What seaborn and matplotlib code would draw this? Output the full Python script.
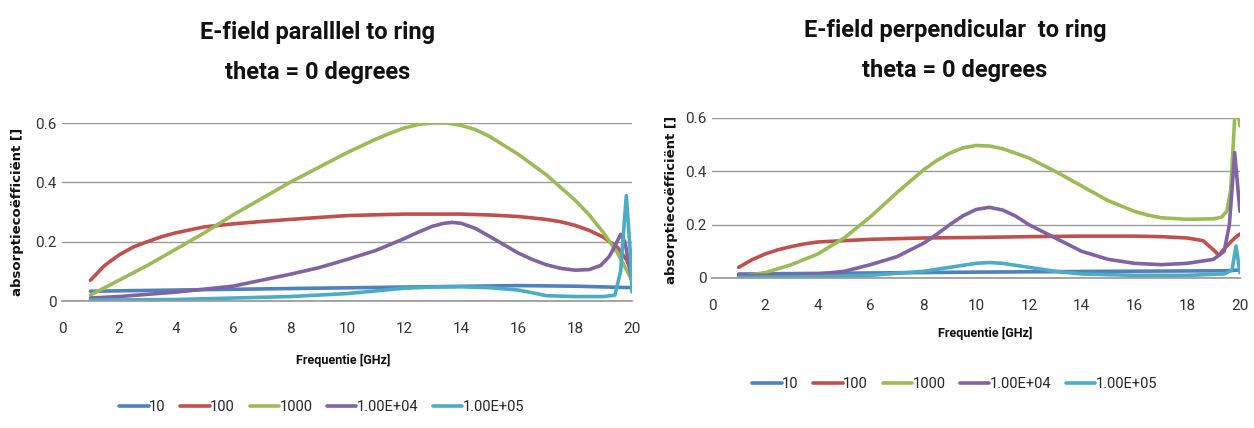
import matplotlib
matplotlib.use("Agg")
import matplotlib.pyplot as plt
import seaborn as sns

sns.set_theme(style="white")
plt.rcParams["font.family"] = ["Roboto", "DejaVu Sans"]

series_names = ["10", "100", "1000", "1.00E+04", "1.00E+05"]
colors = ["#4F81BD", "#C0504D", "#9BBB59", "#8064A2", "#4BACC6"]

# --- E-field parallel to ring ---
par_x_10 = [1, 4, 8, 12, 16, 18, 20]
par_y_10 = [0.033, 0.037, 0.042, 0.047, 0.052, 0.05, 0.045]

par_x_100 = [1, 1.5, 2, 2.5, 3, 3.5, 4, 5, 6, 7, 8, 10, 12, 14, 15, 16, 17, 17.5,
             18, 18.5, 19, 19.5, 19.8, 20]
par_y_100 = [0.07, 0.12, 0.155, 0.182, 0.2, 0.217, 0.23, 0.25, 0.26, 0.268, 0.275,
             0.288, 0.293, 0.293, 0.29, 0.285, 0.275, 0.267, 0.255, 0.238, 0.215,
             0.18, 0.14, 0.095]

par_x_1000 = [1, 2, 3, 4, 5, 6, 7, 8, 9, 10, 11, 11.5, 12, 12.5, 13, 13.5, 14,
              14.5, 15, 16, 17, 18, 18.5, 19, 19.5, 20]
par_y_1000 = [0.02, 0.07, 0.12, 0.175, 0.23, 0.29, 0.345, 0.4, 0.45, 0.5, 0.545,
              0.565, 0.583, 0.595, 0.6, 0.6, 0.592, 0.578, 0.555, 0.495, 0.425,
              0.34, 0.29, 0.23, 0.16, 0.07]

par_x_1e4 = [1, 2, 4, 6, 8, 9, 10, 11, 12, 12.5, 13, 13.4, 13.7, 14, 14.5, 15,
             15.5, 16, 16.5, 17, 17.5, 18, 18.5, 18.9, 19.2, 19.4, 19.6, 19.75,
             19.9, 20]
par_y_1e4 = [0.01, 0.015, 0.03, 0.05, 0.09, 0.112, 0.14, 0.17, 0.21, 0.232, 0.252,
             0.262, 0.265, 0.262, 0.245, 0.218, 0.19, 0.162, 0.14, 0.122, 0.11,
             0.104, 0.106, 0.12, 0.15, 0.185, 0.225, 0.2, 0.12, 0.06]

par_x_1e5 = [1, 4, 8, 10, 11, 12, 13, 14, 15, 16, 16.5, 17, 18, 19, 19.4, 19.6,
             19.8, 19.95, 20]
par_y_1e5 = [0.003, 0.005, 0.015, 0.025, 0.034, 0.043, 0.047, 0.048, 0.045, 0.037,
             0.028, 0.018, 0.015, 0.015, 0.02, 0.1, 0.355, 0.15, 0.03]

# --- E-field perpendicular to ring ---
per_x_10 = [1, 5, 10, 15, 19.5, 20]
per_y_10 = [0.015, 0.018, 0.022, 0.025, 0.027, 0.03]

per_x_100 = [1, 1.5, 2, 2.5, 3, 3.5, 4, 5, 6, 8, 10, 12, 14, 16, 17, 18, 18.6, 19,
             19.2, 19.5, 19.8, 20]
per_y_100 = [0.04, 0.068, 0.09, 0.106, 0.118, 0.128, 0.135, 0.14, 0.145, 0.15,
             0.152, 0.155, 0.157, 0.157, 0.155, 0.15, 0.14, 0.105, 0.085, 0.12,
             0.15, 0.165]

per_x_1000 = [1, 2, 3, 4, 5, 6, 7, 8, 8.5, 9, 9.5, 10, 10.5, 11, 11.5, 12, 13, 14,
              15, 16, 16.5, 17, 18, 19, 19.3, 19.5, 19.65, 19.8, 19.9, 20]
per_y_1000 = [0.005, 0.02, 0.05, 0.09, 0.15, 0.23, 0.32, 0.405, 0.44, 0.468, 0.488,
              0.497, 0.495, 0.485, 0.468, 0.45, 0.4, 0.345, 0.29, 0.25, 0.236, 0.226,
              0.22, 0.222, 0.228, 0.25, 0.33, 0.6, 0.64, 0.57]

per_x_1e4 = [1, 3, 4, 5, 6, 7, 8, 8.5, 9, 9.5, 10, 10.5, 11, 11.5, 12, 13, 14, 15,
             16, 17, 18, 19, 19.4, 19.6, 19.8, 20]
per_y_1e4 = [0.01, 0.01, 0.015, 0.025, 0.05, 0.08, 0.13, 0.163, 0.2, 0.233, 0.257,
             0.265, 0.255, 0.232, 0.2, 0.15, 0.1, 0.07, 0.055, 0.05, 0.055, 0.07,
             0.1, 0.2, 0.47, 0.25]

per_x_1e5 = [1, 4, 6, 8, 9, 10, 10.5, 11, 12, 13, 14, 16, 18, 19.4, 19.7, 19.85, 20]
per_y_1e5 = [0.002, 0.005, 0.01, 0.025, 0.04, 0.055, 0.058, 0.055, 0.04, 0.025,
             0.015, 0.01, 0.01, 0.015, 0.03, 0.12, 0.02]

parallel = [(par_x_10, par_y_10), (par_x_100, par_y_100), (par_x_1000, par_y_1000),
            (par_x_1e4, par_y_1e4), (par_x_1e5, par_y_1e5)]
perpendicular = [(per_x_10, per_y_10), (per_x_100, per_y_100),
                 (per_x_1000, per_y_1000), (per_x_1e4, per_y_1e4),
                 (per_x_1e5, per_y_1e5)]

fig = plt.figure(figsize=(12.54, 4.28), dpi=100)
ax1 = fig.add_axes([0.0494, 0.2967, 0.4546, 0.4159])
ax2 = fig.add_axes([0.568, 0.3505, 0.4208, 0.3738])


def draw_panel(ax, data):
    for (xs, ys), name, col in zip(data, series_names, colors):
        sns.lineplot(x=xs, y=ys, ax=ax, color=col, linewidth=2.6,
                     label=name, legend=False, solid_joinstyle="round")
    ax.set_xlim(0, 20)
    ax.set_ylim(0, 0.6)
    ax.set_xticks(range(0, 21, 2))
    ax.set_yticks([0, 0.2, 0.4, 0.6])
    ax.set_yticklabels(["0", "0.2", "0.4", "0.6"])
    ax.grid(axis="y", color="#9a9a9a", linewidth=1)
    ax.set_axisbelow(True)
    for s in ["top", "right", "left"]:
        ax.spines[s].set_visible(False)
    ax.spines["bottom"].set_color("#9a9a9a")
    ax.tick_params(axis="x", labelsize=11, pad=15, length=0, colors="#333333")
    ax.tick_params(axis="y", labelsize=11, pad=4, length=0, colors="#333333")
    ax.set_xlabel("")
    ax.set_ylabel("")


draw_panel(ax1, parallel)
draw_panel(ax2, perpendicular)

title_kw = dict(ha="center", va="center", fontsize=17, fontweight="bold",
                color="#111111")
fig.text(318 / 1254, 1 - 32 / 428, "E-field paralllel to ring", **title_kw)
fig.text(318 / 1254, 1 - 72 / 428, "theta = 0 degrees", **title_kw)
fig.text(955 / 1254, 1 - 30 / 428, "E-field perpendicular  to ring", **title_kw)
fig.text(955 / 1254, 1 - 70 / 428, "theta = 0 degrees", **title_kw)

lab_kw = dict(ha="center", va="center", fontsize=9, fontweight="bold",
              color="#111111")
fig.text(343 / 1254, 1 - 360 / 428, "Frequentie [GHz]", **lab_kw)
fig.text(985 / 1254, 1 - 333 / 428, "Frequentie [GHz]", **lab_kw)

ylab_kw = dict(ha="center", va="center", rotation=90, fontsize=9.5,
               fontweight="bold", color="#111111", family="DejaVu Sans")
fig.text(18 / 1254, 1 - 212 / 428, "absorptiecoëfficiënt []", **ylab_kw)
fig.text(672 / 1254, 1 - 200 / 428, "absorptiecoëfficiënt []", **ylab_kw)

handles, labels = ax1.get_legend_handles_labels()
leg_kw = dict(ncol=5, frameon=False, fontsize=10.5, handlelength=2.0,
              columnspacing=1.0, handletextpad=0.05, loc="center")
fig.legend(handles, labels, bbox_to_anchor=(322 / 1254, 1 - 407 / 428), **leg_kw)
fig.legend(handles, labels, bbox_to_anchor=(955 / 1254, 1 - 384 / 428), **leg_kw)

fig.savefig("out.png", dpi=100)
